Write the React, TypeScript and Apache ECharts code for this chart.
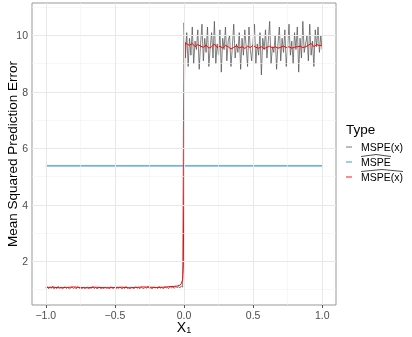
import React, { useEffect, useRef } from 'react';
import * as echarts from 'echarts';

// ---- axis ticks ----
const xTicks = [-1, -0.5, 0, 0.5, 1];
const xMinor = [-0.75, -0.25, 0.25, 0.75];
const yTicks = [2, 4, 6, 8, 10];
const yMinor = [1, 3, 5, 7, 9, 11];

// ---- grey: MSPE(x), sampled every 0.01 ----
const greyStep = 0.01;
const greyLowStart = -1.0;
const greyLow = [
  1.05, 1.10, 1.02, 1.08, 1.04, 1.12, 1.01, 1.07, 1.03, 1.11,
  1.04, 1.09, 1.02, 1.06, 1.10, 1.03, 1.08, 1.01, 1.05, 1.09,
  1.03, 1.07, 1.02, 1.10, 1.04, 1.06, 1.01, 1.08, 1.03, 1.05,
  1.09, 1.02, 1.06, 1.04, 1.11, 1.03, 1.07, 1.02, 1.05, 1.08,
  1.01, 1.06, 1.03, 1.09, 1.04, 1.07, 1.02, 1.10, 1.05, 1.03,
  1.08, 1.02, 1.06, 1.04, 1.09, 1.01, 1.07, 1.03, 1.11, 1.04,
  1.06, 1.02, 1.08, 1.05, 1.03, 1.10, 1.04, 1.07, 1.02, 1.09,
  1.05, 1.03, 1.08, 1.04, 1.12, 1.03, 1.06, 1.02, 1.09, 1.05,
  1.07, 1.03, 1.11, 1.04, 1.08, 1.02, 1.10, 1.05, 1.07, 1.03,
  1.12, 1.05, 1.09, 1.04, 1.11, 1.06, 1.10, 1.05, 1.13, 1.08,
];
const greyHighStart = 0.0;
const greyHigh = [
  10.45, 9.2, 10.1, 8.9, 9.9, 9.3, 10.3, 9.0, 9.8, 9.5,
  10.2, 8.8, 9.7, 10.4, 9.1, 9.9, 9.4, 10.3, 8.9, 9.6,
  10.1, 9.2, 10.5, 9.0, 9.7, 9.3, 10.2, 8.7, 9.9, 9.5,
  10.3, 9.1, 9.8, 10.0, 8.9, 9.6, 10.4, 9.2, 9.7, 9.4,
  10.1, 8.8, 9.9, 9.3, 10.2, 9.6, 8.9, 10.3, 9.5, 9.1,
  9.8, 10.4, 9.0, 9.7, 9.3, 10.1, 8.6, 9.9, 9.5, 10.2,
  9.2, 9.8, 10.5, 9.0, 9.6, 9.4, 10.0, 8.8, 9.7, 10.3,
  9.1, 9.9, 9.4, 10.2, 8.9, 9.6, 10.4, 9.3, 9.8, 9.0,
  10.1, 9.5, 10.3, 8.7, 9.9, 9.2, 10.5, 9.4, 9.7, 10.0,
  9.1, 10.4, 9.3, 9.8, 8.9, 10.2, 9.6, 10.3, 9.4, 10.0,
  9.5,
];

// ---- red: smoothed estimate ----
const redX = [
  -1, -0.95, -0.9, -0.85, -0.8, -0.75, -0.7, -0.65, -0.6, -0.55,
  -0.5, -0.45, -0.4, -0.35, -0.3, -0.25, -0.2, -0.15, -0.1, -0.05,
  -0.03, -0.02, -0.01, -0.005, 0, 0.005, 0.01,
  0.02, 0.04, 0.06, 0.08, 0.1, 0.12, 0.14, 0.16, 0.18, 0.2,
  0.22, 0.24, 0.26, 0.28, 0.3, 0.32, 0.34, 0.36, 0.38, 0.4,
  0.42, 0.44, 0.46, 0.48, 0.5, 0.52, 0.54, 0.56, 0.58, 0.6,
  0.62, 0.64, 0.66, 0.68, 0.7, 0.72, 0.74, 0.76, 0.78, 0.8,
  0.82, 0.84, 0.86, 0.88, 0.9, 0.92, 0.94, 0.96, 0.98, 1.0,
];
const redY = [
  1.07, 1.08, 1.06, 1.07, 1.09, 1.07, 1.06, 1.08, 1.07, 1.06,
  1.07, 1.08, 1.06, 1.07, 1.09, 1.08, 1.07, 1.08, 1.10, 1.12,
  1.15, 1.2, 1.35, 1.8, 5.5, 9.3, 9.75,
  9.70, 9.65, 9.72, 9.60, 9.68, 9.62, 9.58, 9.66, 9.55, 9.60,
  9.70, 9.57, 9.62, 9.55, 9.65, 9.60, 9.52, 9.58, 9.63, 9.56,
  9.60, 9.54, 9.62, 9.57, 9.65, 9.58, 9.55, 9.60, 9.53, 9.58,
  9.62, 9.56, 9.60, 9.55, 9.58, 9.62, 9.57, 9.60, 9.55, 9.58,
  9.60, 9.62, 9.57, 9.60, 9.65, 9.72, 9.60, 9.68, 9.64, 9.66,
];

// ---- blue: overall mean ----
const blueX = [-1, 1];
const blueValue = 5.38;

// ---- legend ----
const legendTitle = 'Type';
const legendLabels = ['MSPE(x)', 'MSPE', 'MSPE(x)'];
const legendHats = [false, true, true];
const legendColors = ['#7a7a7a', '#3b99dd', '#ff1a1a'];

const FONT = '"Liberation Sans", Arial, Helvetica, sans-serif';

export default function App() {
  const ref = useRef<HTMLDivElement>(null);
  useEffect(() => {
    if (!ref.current) return;
    const chart = echarts.init(ref.current, undefined, { renderer: 'svg' });

    const greyData: number[][] = [];
    greyLow.forEach((v, i) => greyData.push([greyLowStart + i * greyStep, v]));
    greyHigh.forEach((v, i) => greyData.push([greyHighStart + i * greyStep, v]));
    const redData = redX.map((x, i) => [x, redY[i]]);
    const blueData = blueX.map((x) => [x, blueValue]);

    const minorStyle = { color: '#f2f2f2', width: 0.6, type: 'solid' as const };
    const majorStyle = { color: '#e8e8e8', width: 1, type: 'solid' as const };
    const gridLines = [
      ...xMinor.map((v) => ({ xAxis: v, lineStyle: minorStyle })),
      ...yMinor.map((v) => ({ yAxis: v, lineStyle: minorStyle })),
      ...xTicks.map((v) => ({ xAxis: v, lineStyle: majorStyle })),
      ...yTicks.map((v) => ({ yAxis: v, lineStyle: majorStyle })),
    ];

    const fmt = (v: number) => v.toFixed(1).replace('-', '\u2212');

    const legendX = 346;
    const legendYs = [147, 162, 177];
    const textW = [42, 30, 42];
    const graphics: any[] = [
      {
        type: 'text', x: 12, y: 154, rotation: Math.PI / 2,
        style: { text: 'Mean Squared Prediction Error', font: `13.5px ${FONT}`, fill: '#000', align: 'center', verticalAlign: 'middle' },
      },
      {
        type: 'text', x: 184, y: 327,
        style: {
          text: 'X{s|1}', font: `14px ${FONT}`, fill: '#000', align: 'center', verticalAlign: 'middle',
          rich: { s: { fontSize: 9, fontFamily: FONT, verticalAlign: 'bottom', padding: [6, 0, 0, 0] } },
        },
      },
      {
        type: 'text', x: legendX, y: 129,
        style: { text: legendTitle, font: `13.5px ${FONT}`, fill: '#000', align: 'left', verticalAlign: 'middle' },
      },
    ];
    legendLabels.forEach((lab, i) => {
      const y = legendYs[i];
      graphics.push({
        type: 'line',
        shape: { x1: legendX, y1: y, x2: legendX + 6, y2: y },
        style: { stroke: legendColors[i], lineWidth: 1 },
      });
      graphics.push({
        type: 'text', x: legendX + 15, y,
        style: { text: lab, font: `10.5px ${FONT}`, fill: '#000', align: 'left', verticalAlign: 'middle' },
      });
      if (legendHats[i]) {
        const x0 = legendX + 15;
        graphics.push({
          type: 'polyline',
          shape: { points: [[x0, y - 5.5], [x0 + textW[i] / 2, y - 7.5], [x0 + textW[i], y - 5.5]] },
          style: { stroke: '#000', lineWidth: 0.7, fill: 'none' },
        });
      }
    });

    chart.setOption({
      animation: false,
      textStyle: { fontFamily: FONT },
      grid: { left: 32, right: 76, top: 3, bottom: 32, show: true, borderColor: '#999', borderWidth: 1, backgroundColor: '#fff' },
      xAxis: {
        type: 'value', min: -1.1, max: 1.1,
        axisLine: { show: false },
        splitLine: { show: false },
        axisTick: { show: true, length: 3, customValues: xTicks, lineStyle: { color: '#555' } },
        axisLabel: { customValues: xTicks, formatter: fmt, color: '#4d4d4d', fontSize: 10.5, margin: 4, fontFamily: FONT },
      },
      yAxis: {
        type: 'value', min: 0.45, max: 11.15,
        axisLine: { show: false },
        splitLine: { show: false },
        axisTick: { show: true, length: 3, customValues: yTicks, lineStyle: { color: '#555' } },
        axisLabel: { customValues: yTicks, formatter: (v: number) => String(v), color: '#4d4d4d', fontSize: 10.5, margin: 4, fontFamily: FONT },
      },
      graphic: graphics,
      series: [
        {
          type: 'line', data: [], silent: true,
          markLine: { silent: true, symbol: 'none', label: { show: false }, data: gridLines, animation: false },
          z: 0,
        },
        {
          type: 'line', data: greyData, showSymbol: false, silent: true,
          lineStyle: { color: '#4d4d4d', width: 1, opacity: 0.7 },
          z: 2,
        },
        {
          type: 'line', data: blueData, showSymbol: false, silent: true,
          lineStyle: { color: legendColors[1], width: 1.1 },
          z: 3,
        },
        {
          type: 'line', data: redData, showSymbol: false, silent: true,
          lineStyle: { color: '#ff0000', width: 1 },
          z: 4,
        },
      ],
    });
    return () => chart.dispose();
  }, []);
  return <div ref={ref} style={{ position: 'fixed', left: 0, top: 0, width: 412, height: 337 }} />;
}
